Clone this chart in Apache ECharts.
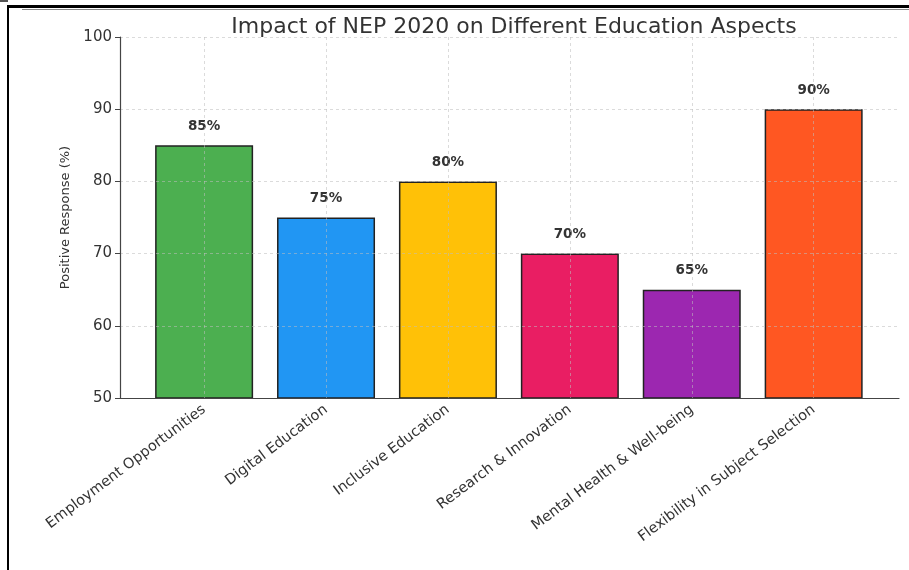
<!DOCTYPE html>
<html><head><meta charset="utf-8">
<script src="https://cdn.jsdelivr.net/npm/echarts@6/dist/echarts.min.js"></script>
<style>html,body{margin:0;padding:0;background:#fff}#c{width:909px;height:570px}</style>
</head><body><div id="c"></div>
<script>
const categories = ["Employment Opportunities","Digital Education","Inclusive Education","Research & Innovation","Mental Health & Well-being","Flexibility in Subject Selection"];
const values = [85,75,80,70,65,90];
const colors = ["#4CAF50","#2196F3","#FFC107","#E91E63","#9C27B0","#FF5722"];
const yTicks = [50,60,70,80,90,100];
const titleText = "Impact of NEP 2020 on Different Education Aspects";
const yName = "Positive Response (%)";

const chart = echarts.init(document.getElementById('c'));
const idx = categories.map((c,i)=>i);
const gridStyle = {type:[3,3],color:'rgba(190,190,190,0.55)',width:1};
chart.setOption({
  animation:false,
  backgroundColor:'#fff',
  title:{text:titleText,left:509,top:11,textAlign:'center',textStyle:{fontFamily:'DejaVu Sans',fontSize:22,fontWeight:'normal',color:'#333'}},
  grid:{left:120,right:10,top:37,bottom:172},
  xAxis:{type:'value',min:-0.69,max:5.70,z:3,
    axisLine:{show:true,onZero:false,lineStyle:{color:'#444',width:1.2}},
    axisTick:{show:false,customValues:idx},
    axisLabel:{customValues:idx,rotate:37,margin:10,fontFamily:'DejaVu Sans',fontSize:14.5,color:'#333',formatter:v=>categories[Math.round(v)]},
    splitLine:{show:true,lineStyle:gridStyle}
  },
  yAxis:{type:'value',min:50,max:100,interval:10,z:3,
    name:yName,nameLocation:'middle',nameGap:47,nameTextStyle:{fontFamily:'DejaVu Sans',fontSize:13,color:'#333'},
    axisLine:{show:true,onZero:false,lineStyle:{color:'#444',width:1.2}},
    axisTick:{show:true,length:5,lineStyle:{color:'#444'}},
    axisLabel:{fontFamily:'DejaVu Sans',fontSize:15,color:'#333',margin:8,formatter:v=>yTicks.includes(v)?String(v):''},
    splitLine:{show:true,lineStyle:gridStyle}
  },
  series:[{type:'bar',barWidth:98,z:2,
    data:values.map((v,i)=>({value:[i,v],itemStyle:{color:colors[i]}})),
    itemStyle:{borderColor:'#222',borderWidth:1.5},
    label:{show:true,position:'top',distance:12,formatter:p=>p.value[1]+'%',fontFamily:'DejaVu Sans',fontSize:13.5,fontWeight:'bold',color:'#333'}
  }],
  graphic:[
    {type:'rect',shape:{x:7,y:5,width:902,height:3},style:{fill:'#000'},silent:true},
    {type:'rect',shape:{x:22,y:9,width:887,height:1},style:{fill:'#888'},silent:true},
    {type:'rect',shape:{x:7,y:5,width:2,height:565},style:{fill:'#000'},silent:true},
    {type:'rect',shape:{x:0,y:0,width:8,height:2},style:{fill:'#555'},silent:true}
  ]
});
</script></body></html>
